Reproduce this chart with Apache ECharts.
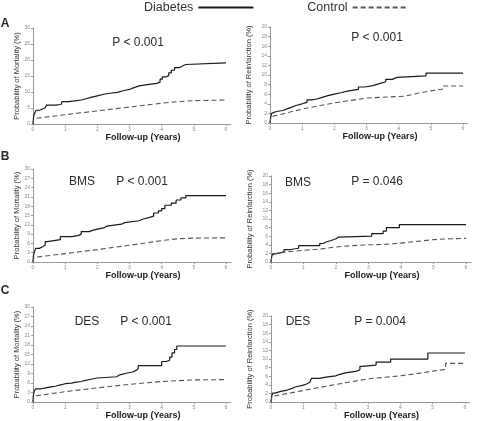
<!DOCTYPE html>
<html><head><meta charset="utf-8">
<script src="https://cdn.jsdelivr.net/npm/echarts@6/dist/echarts.min.js"></script>
<style>html,body{margin:0;padding:0;background:#fff}#c{width:485px;height:421px}</style>
</head><body><div id="c"></div>
<script>
// ---- data (years, cumulative %) ----
const xTicks = [0, 1, 2, 3, 4, 5, 6];
const seriesNames = ['Diabetes', 'Control'];
const panelLetters = ['A', 'B', 'C'];
const groupLabels = ['', 'BMS', 'DES'];
const pMortality = ['P < 0.001', 'P < 0.001', 'P < 0.001'];
const pReinfarction = ['P < 0.001', 'P = 0.046', 'P = 0.004'];
const yNameMort = 'Probability of Mortality (%)';
const yNameReinf = 'Probability of Reinfarction (%)';
const xName = 'Follow-up (Years)';

const mortA_diabetes = [[0,0],[0.01,1.5],[0.03,2.8],[0.06,3.6],[0.1,4.3],[0.2,4.7],[0.3,5.1],[0.38,5.5],[0.42,5.9],[0.7,6.1],[0.87,6.4],[0.9,7.0],[1.1,7.2],[1.3,7.5],[1.5,7.9],[1.65,8.3],[1.8,8.8],[2.0,9.3],[2.2,9.6],[2.4,9.9],[2.62,10.4],[2.8,10.8],[3.0,11.3],[3.12,11.9],[3.3,12.3],[3.55,12.7],[3.85,13.1],[3.95,14.0],[4.02,14.7],[4.12,15.1],[4.22,16.0],[4.3,16.8],[4.4,17.6],[4.55,18.1],[4.65,18.6],[4.75,19.1],[6.0,19.1]];
const mortA_control = [[0,0],[0.03,1.7],[1,2.9],[2,4.1],[3,5.3],[4,6.5],[4.5,7.0],[5,7.3],[6,7.5]];

const reinfA_diabetes = [[0,0],[0.02,1.2],[0.05,2.0],[0.1,2.4],[0.2,2.6],[0.4,3.0],[0.55,3.3],[0.68,3.6],[0.78,4.0],[1.0,4.3],[1.15,4.8],[1.3,5.0],[1.45,5.3],[1.6,5.7],[1.8,6.0],[2.0,6.3],[2.2,6.7],[2.45,7.0],[2.75,7.5],[2.95,7.8],[3.2,8.2],[3.4,8.6],[3.6,9.1],[3.8,9.5],[3.95,9.8],[4.85,10.4],[6.0,10.4]];
const reinfA_control = [[0,0],[0.03,1.3],[1,2.9],[2,4.2],[3,5.2],[4.2,5.6],[4.6,6.2],[5,6.7],[5.4,7.1],[5.4,7.7],[6,7.7]];

const mortB_diabetes = [[0,0],[0.01,1.7],[0.03,2.8],[0.08,4.4],[0.2,4.9],[0.3,5.5],[0.38,6.6],[0.45,7.2],[0.85,8.2],[1.2,8.5],[1.4,9.0],[1.5,9.8],[1.75,10.2],[1.85,10.6],[2.0,11.0],[2.2,11.6],[2.3,12.2],[2.75,12.7],[2.85,13.3],[3.3,13.8],[3.4,14.3],[3.6,14.8],[3.75,15.8],[3.9,16.5],[4.0,17.2],[4.1,18.3],[4.3,19.0],[4.45,20.0],[4.6,20.7],[4.75,21.4],[6.0,21.4]];
const mortB_control = [[0,0],[0.03,1.5],[1,2.7],[2,4.0],[3,5.4],[4,6.9],[4.5,7.5],[5,7.7],[6,7.8]];

const reinfB_diabetes = [[0,0],[0.02,1.2],[0.05,1.9],[0.12,2.3],[0.4,2.9],[0.6,3.2],[0.85,3.8],[1.5,4.3],[1.6,4.7],[1.72,5.0],[1.85,5.4],[2.0,5.8],[2.08,6.0],[3.1,6.6],[3.45,7.2],[3.55,8.0],[3.95,8.7],[6.0,8.7]];
const reinfB_control = [[0,0],[0.03,1.6],[0.2,2.1],[0.5,2.4],[1,2.7],[1.5,3.0],[2,3.5],[2.5,3.8],[3,4.0],[3.5,4.1],[4,4.4],[4.5,4.8],[5,5.2],[5.5,5.4],[6,5.5]];

const mortC_diabetes = [[0,0],[0.01,2.0],[0.04,3.5],[0.08,4.2],[0.25,4.5],[0.4,4.8],[0.55,5.0],[0.7,5.3],[0.8,5.8],[1.0,6.0],[1.2,6.2],[1.3,6.5],[1.5,6.8],[1.6,7.2],[1.8,7.6],[2.0,8.0],[2.6,8.6],[2.7,9.1],[2.9,9.5],[3.1,10.0],[3.2,10.5],[3.27,11.5],[4.0,12.8],[4.15,13.2],[4.25,14.2],[4.32,15.5],[4.4,16.6],[4.47,17.7],[6.0,17.7]];
const mortC_control = [[0,0],[0.03,1.9],[1,3.3],[2,4.5],[3,5.6],[4,6.5],[5,7.0],[6,7.1]];

const reinfC_diabetes = [[0,0],[0.02,1.3],[0.05,2.1],[0.12,2.5],[0.3,2.8],[0.5,3.2],[0.65,3.5],[0.75,3.95],[1.0,4.2],[1.1,4.6],[1.2,5.0],[1.25,5.5],[1.5,5.8],[1.7,6.1],[2.0,6.4],[2.1,6.8],[2.3,7.2],[2.65,7.5],[2.75,8.3],[2.82,8.6],[3.25,9.3],[3.7,10.0],[4.85,11.4],[6.0,11.4]];
const reinfC_control = [[0,0],[0.03,1.3],[1,2.7],[2,4.1],[3,5.4],[4,6.1],[4.5,6.6],[5,7.2],[5.4,7.6],[5.4,9.0],[6,9.0]];

// ---- layout ----
const FONT = "'Liberation Sans', Arial, sans-serif";
const XMAX = 6.15;
const panels = [
  {dm: mortA_diabetes, ct: mortA_control, ymax: 30, yint: 5, yname: yNameMort, g: [33, 226, 124, 28], xg: 8, yg: 12},
  {dm: reinfA_diabetes, ct: reinfA_control, ymax: 20, yint: 2, yname: yNameReinf, g: [270, 463, 123, 27], xg: 8, yg: 17},
  {dm: mortB_diabetes, ct: mortB_control, ymax: 30, yint: 3, yname: yNameMort, g: [33, 226, 262, 169], xg: 9, yg: 12},
  {dm: reinfB_diabetes, ct: reinfB_control, ymax: 20, yint: 2, yname: yNameReinf, g: [271, 466, 262, 176], xg: 9, yg: 17},
  {dm: mortC_diabetes, ct: mortC_control, ymax: 30, yint: 3, yname: yNameMort, g: [33, 226, 405, 307], xg: 5, yg: 12},
  {dm: reinfC_diabetes, ct: reinfC_control, ymax: 20, yint: 2, yname: yNameReinf, g: [271, 465, 403, 316], xg: 5, yg: 17}
];

const axisColor = '#9a9a9a';
const grid = [], xAxis = [], yAxis = [], series = [];
panels.forEach((p, i) => {
  const [x0, x6, y0, yTop] = p.g;
  grid.push({left: x0, top: yTop, width: (x6 - x0) * XMAX / 6, height: y0 - yTop});
  xAxis.push({
    type: 'value', gridIndex: i, min: 0, max: XMAX,
    axisLine: {show: true, lineStyle: {color: axisColor, width: 1}},
    axisTick: {show: true, length: 2, customValues: xTicks, lineStyle: {color: axisColor}},
    axisLabel: {customValues: xTicks, fontSize: 5, color: '#8a8a8a', margin: 3, fontFamily: FONT},
    splitLine: {show: false},
    name: xName, nameLocation: 'middle', nameGap: p.xg,
    nameTextStyle: {fontSize: 9, fontWeight: 'bold', color: '#222', fontFamily: FONT, padding: [0, 0, 0, 22]}
  });
  yAxis.push({
    type: 'value', gridIndex: i, min: 0, max: p.ymax, interval: p.yint,
    axisLine: {show: true, lineStyle: {color: axisColor, width: 1}},
    axisTick: {show: true, length: 2, lineStyle: {color: axisColor}},
    axisLabel: {fontSize: 5, color: '#8a8a8a', margin: 3, fontFamily: FONT},
    splitLine: {show: false},
    name: p.yname, nameLocation: 'middle', nameGap: p.yg,
    nameTextStyle: {fontSize: 7.5, color: '#333', fontFamily: FONT}
  });
  series.push({
    name: seriesNames[0], type: 'line', xAxisIndex: i, yAxisIndex: i, data: p.dm,
    step: 'end', symbol: 'none', lineStyle: {color: '#1a1a1a', width: 1.2}, itemStyle: {color: '#1a1a1a'}
  });
  series.push({
    name: seriesNames[1], type: 'line', xAxisIndex: i, yAxisIndex: i, data: p.ct,
    symbol: 'none', lineStyle: {color: '#555', width: 1.1, type: [5, 3]}, itemStyle: {color: '#555'}
  });
});

function txt(x, y, s, size, weight) {
  return {type: 'text', x: x, y: y, style: {text: s, fontSize: size, fontWeight: weight || 'normal',
    fontFamily: FONT, fill: '#2a2a2a', align: 'center', verticalAlign: 'middle'}};
}
const graphic = [
  txt(5, 24, panelLetters[0], 12, 'bold'),
  txt(5, 157, panelLetters[1], 12, 'bold'),
  txt(5, 291, panelLetters[2], 12, 'bold'),
  txt(138, 43, pMortality[0], 12),
  txt(377, 38, pReinfarction[0], 12),
  txt(82, 182, groupLabels[1], 12),
  txt(142, 182, pMortality[1], 12),
  txt(298, 183, groupLabels[1], 12),
  txt(377, 182, pReinfarction[1], 12),
  txt(87, 322, groupLabels[2], 12),
  txt(146, 322, pMortality[2], 12),
  txt(298, 322, groupLabels[2], 12),
  txt(380, 322, pReinfarction[2], 12)
];

const chart = echarts.init(document.getElementById('c'), null, {renderer: 'canvas'});
chart.setOption({
  animation: false,
  backgroundColor: '#fff',
  legend: {
    data: seriesNames, left: 144, top: 1, padding: 0, align: 'right',
    itemWidth: 55, itemHeight: 14, itemGap: 53,
    itemStyle: {opacity: 0},
    textStyle: {fontSize: 12.5, color: '#333', fontFamily: FONT}
  },
  grid, xAxis, yAxis, series, graphic
});
</script></body></html>
